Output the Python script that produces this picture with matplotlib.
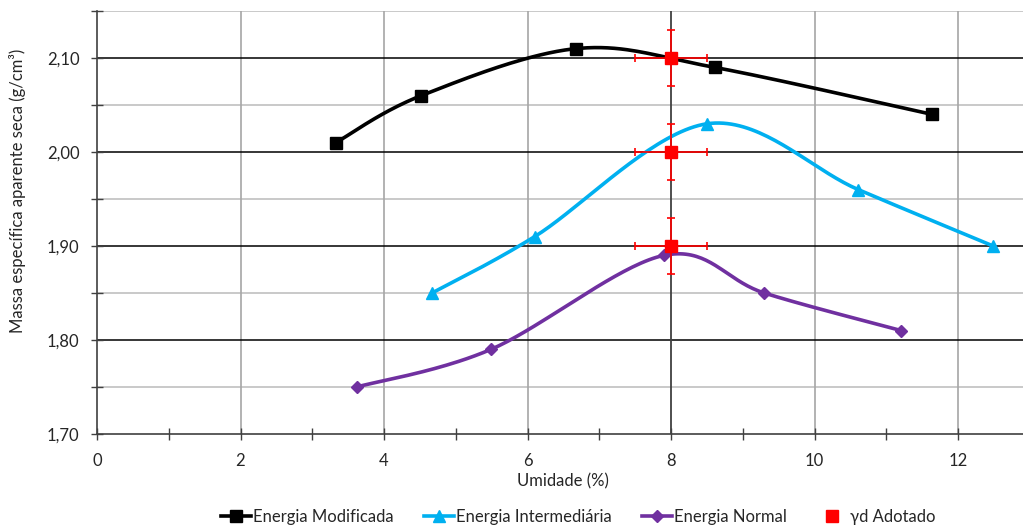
import numpy as np
import matplotlib
matplotlib.use("Agg")
import matplotlib.pyplot as plt
from matplotlib.ticker import FuncFormatter, MultipleLocator
from matplotlib.lines import Line2D

plt.rcParams['font.family'] = ['Lato', 'DejaVu Sans']

# Compaction curves: moisture (%) vs dry density (g/cm3)
mod_x = [3.33, 4.52, 6.68, 8.61, 11.64]
mod_y = [2.01, 2.06, 2.11, 2.09, 2.04]

int_x = [4.67, 6.10, 8.50, 10.61, 12.49]
int_y = [1.85, 1.91, 2.03, 1.96, 1.90]

nor_x = [3.62, 5.49, 7.90, 9.30, 11.21]
nor_y = [1.75, 1.79, 1.89, 1.85, 1.81]

# Adopted dry density points with error bars
ad_x = [8.0, 8.0, 8.0]
ad_y = [2.10, 2.00, 1.90]
ad_xerr = [0.5, 0.5, 0.5]
ad_yerr = [0.03, 0.03, 0.03]

labels = ["Energia Modificada", "Energia Intermediária", "Energia Normal", "γd Adotado"]


def smooth(xs, ys, n=40):
    """Bezier smoothing through the points (Catmull-Rom style control points)."""
    p = np.column_stack([xs, ys]).astype(float)
    ext = np.vstack([p[0], p, p[-1]])
    out = []
    t = np.linspace(0, 1, n)[:, None]
    for i in range(1, len(ext) - 2):
        p0, p1, p2, p3 = ext[i - 1], ext[i], ext[i + 1], ext[i + 2]
        c1 = p1 + (p2 - p0) / 6.0
        c2 = p2 - (p3 - p1) / 6.0
        seg = ((1 - t) ** 3) * p1 + 3 * ((1 - t) ** 2) * t * c1 + 3 * (1 - t) * t ** 2 * c2 + t ** 3 * p2
        out.append(seg if i == 1 else seg[1:])
    pts = np.vstack(out)
    return pts[:, 0], pts[:, 1]


W, H = 1023, 529
fig = plt.figure(figsize=(W / 100, H / 100), dpi=100)
left, right, top, bottom = 97, 97 + 13 * 71.75, 11, 434
ax = fig.add_axes([left / W, 1 - bottom / H, (right - left) / W, (bottom - top) / H])

ax.set_xlim(0, 13)
ax.set_ylim(1.70, 2.15)

ax.xaxis.set_major_locator(MultipleLocator(2))
ax.xaxis.set_minor_locator(MultipleLocator(1))
ax.yaxis.set_major_locator(MultipleLocator(0.1))
ax.yaxis.set_minor_locator(MultipleLocator(0.05))
ax.yaxis.set_major_formatter(FuncFormatter(lambda v, p: f"{v:.2f}".replace('.', ',')))
ax.xaxis.set_major_formatter(FuncFormatter(lambda v, p: f"{v:.0f}" if v <= 12.5 else ""))

ax.tick_params(axis='both', which='both', direction='inout', colors='#404040', labelcolor='#262626', labelsize=12)
ax.tick_params(axis='both', which='major', length=9, width=1)
ax.tick_params(axis='both', which='minor', length=9, width=1)
ax.tick_params(axis='x', pad=9)
ax.tick_params(axis='y', pad=8)

for s in ['top', 'right']:
    ax.spines[s].set_visible(False)
for s in ['left', 'bottom']:
    ax.spines[s].set_color('#404040')
    ax.spines[s].set_linewidth(1.2)

# grid lines
for yv in np.arange(1.75, 2.151, 0.1):
    ax.axhline(yv, color='#c0c0c0', lw=1.2, zorder=0)
for yv in np.arange(1.80, 2.101, 0.1):
    ax.axhline(yv, color='#000000', lw=1.1, zorder=0.5)
for xv in [2, 4, 6, 10, 12]:
    ax.axvline(xv, color='#a6a6a6', lw=1.2, zorder=0)
ax.axvline(8, color='#404040', lw=1.3, zorder=0.6)

# curves
sx, sy = smooth(mod_x, mod_y)
ax.plot(sx, sy, color='black', lw=2.6, zorder=3)
ax.plot(mod_x, mod_y, ls='none', marker='s', ms=8.5, color='black', zorder=4)

sx, sy = smooth(int_x, int_y)
ax.plot(sx, sy, color='#00b0f0', lw=2.6, zorder=3)
ax.plot(int_x, int_y, ls='none', marker='^', ms=9, color='#00b0f0', zorder=4)

sx, sy = smooth(nor_x, nor_y)
ax.plot(sx, sy, color='#7030a0', lw=2.6, zorder=3)
ax.plot(nor_x, nor_y, ls='none', marker='D', ms=6.5, color='#7030a0', zorder=4)

ax.errorbar(ad_x, ad_y, xerr=ad_xerr, yerr=ad_yerr, fmt='none', ecolor='#ff0000',
            elinewidth=1.2, capsize=3, capthick=1.2, zorder=5)
ax.plot(ad_x, ad_y, ls='none', marker='s', ms=9, color='#ff0000', zorder=6)

ax.set_xlabel("Umidade (%)", fontsize=12, color='#262626')
ax.set_ylabel("Massa específica aparente seca (g/cm³)", fontsize=12, color='#262626')
ax.xaxis.set_label_coords((563 - left) / (right - left), (bottom - 481) / (bottom - top))
ax.xaxis.label.set_va('center')
ax.yaxis.set_label_coords((18 - left) / (right - left), (bottom - 191) / (bottom - top))
ax.yaxis.label.set_va('center')

handles = [
    Line2D([], [], color='black', lw=2.6, marker='s', ms=8),
    Line2D([], [], color='#00b0f0', lw=2.6, marker='^', ms=8.5),
    Line2D([], [], color='#7030a0', lw=2.6, marker='D', ms=6.5),
    Line2D([], [], ls='none', color='#ff0000', marker='s', ms=9),
]
fig.legend(handles, labels, loc='center', bbox_to_anchor=(578 / W, 1 - 517 / H), ncol=4,
           frameon=False, fontsize=12, handlelength=1.8, handletextpad=0.15, columnspacing=1.8,
           labelcolor='#262626')

fig.savefig("out.png", dpi=100)
